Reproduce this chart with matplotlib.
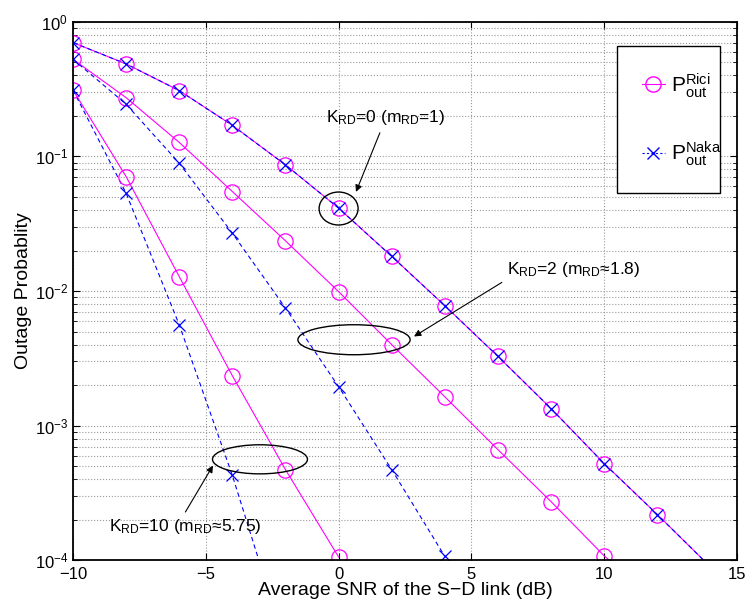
import numpy as np
import matplotlib
matplotlib.use('Agg')
import matplotlib.pyplot as plt
from matplotlib.patches import Ellipse

plt.rcParams['font.family'] = ['Liberation Sans', 'DejaVu Sans']
plt.rcParams['mathtext.fontset'] = 'custom'
plt.rcParams['mathtext.rm'] = 'Liberation Sans'
plt.rcParams['mathtext.it'] = 'Liberation Sans:italic'
plt.rcParams['mathtext.default'] = 'regular'

# SNR points (dB)
snr_k0 = [-10, -8, -6, -4, -2, 0, 2, 4, 6, 8, 10, 12, 13.75]
snr_k2 = [-10, -8, -6, -4, -2, 0, 2, 4, 6, 8, 10, 10.2]
snr_k2_naka = [-10, -8, -6, -4, -2, 0, 2, 4]
snr_k10 = [-10, -8, -6, -4, -2, 0]
snr_k10_naka = [-10, -8, -6, -4, -3.0]

# outage probabilities
rici_k0 = [0.70, 0.486, 0.308, 0.170, 0.0865, 0.0413, 0.0181, 0.00778, 0.00327, 0.00134, 0.000523, 0.000219, 0.0001]
naka_k0 = [0.70, 0.486, 0.308, 0.170, 0.0865, 0.0413, 0.0181, 0.00778, 0.00327, 0.00134, 0.000523, 0.000219, 0.0001]
rici_k2 = [0.526, 0.273, 0.127, 0.0548, 0.0236, 0.0099, 0.0040, 0.00164, 0.000664, 0.000273, 0.000108, 0.0001]
naka_k2 = [0.526, 0.244, 0.089, 0.0269, 0.00748, 0.00195, 0.000472, 0.000107]
rici_k10 = [0.311, 0.0708, 0.0128, 0.00235, 0.000472, 0.000106]
naka_k10 = [0.311, 0.0533, 0.00562, 0.000428, 0.0001]

MAG = '#ff00ff'
BLU = '#0000ff'

fig = plt.figure(figsize=(7.5, 6.08), dpi=100)
ax = fig.add_axes([0.0973, 0.0783, 0.8854, 0.8860])

def marked(x, y, n):
    return x[:n], y[:n]

# lines
ax.plot(snr_k0, rici_k0, '-', color=MAG, lw=0.8)
ax.plot(snr_k2, rici_k2, '-', color=MAG, lw=0.8)
ax.plot(snr_k10, rici_k10, '-', color=MAG, lw=0.8)
ax.plot(snr_k0, naka_k0, '--', color=BLU, lw=0.8, dashes=(4, 3))
ax.plot(snr_k2_naka, naka_k2, '--', color=BLU, lw=0.8, dashes=(4, 3))
ax.plot(snr_k10_naka, naka_k10, '--', color=BLU, lw=0.8, dashes=(4, 3))

# markers
mk = dict(ls='none', ms=11, mfc='none', mec=MAG, mew=0.9, marker='o')
xk = dict(ls='none', ms=9, color=BLU, mew=0.9, marker='x')
ax.plot(*marked(snr_k0, rici_k0, 12), **mk)
ax.plot(*marked(snr_k2, rici_k2, 11), **mk)
ax.plot(snr_k10, rici_k10, **mk)
ax.plot(*marked(snr_k0, naka_k0, 12), **xk)
ax.plot(snr_k2_naka, naka_k2, **xk)
ax.plot(*marked(snr_k10_naka, naka_k10, 4), **xk)

ax.set_yscale('log')
ax.set_xlim(-10, 15)
ax.set_ylim(1e-4, 1)
ax.set_xticks([-10, -5, 0, 5, 10, 15])
ax.set_xticklabels(['\u221210', '\u22125', '0', '5', '10', '15'])
ax.tick_params(which='both', direction='in', top=True, right=True, labelsize=12)
ax.tick_params(which='major', length=5)
ax.tick_params(which='minor', length=3)
ax.tick_params(axis='x', pad=5)
ax.grid(True, which='major', axis='x', ls=':', color='#999999', lw=0.8)
ax.grid(True, which='both', axis='y', ls=':', color='#999999', lw=0.8)
for s in ax.spines.values():
    s.set_linewidth(1.3)

ax.set_xlabel('Average SNR of the S\u2212D link (dB)', fontsize=14, labelpad=0)
ax.set_ylabel('Outage Probablity', fontsize=14, labelpad=2)

# legend
h1, = ax.plot([], [], '-', color=MAG, lw=0.8, marker='o', ms=11, mfc='none', mec=MAG)
h2, = ax.plot([], [], '--', color=BLU, lw=0.8, marker='x', ms=9, dashes=(2, 2))
leg = ax.legend([h1, h2], [r'$P_{out}^{Rici}$', r'$P_{out}^{Naka}$'],
                loc='upper left', bbox_to_anchor=(0.819, 0.688, 0.155, 0.267),
                mode='expand', fontsize=15, handlelength=1.1, handletextpad=0.3,
                labelspacing=1.9, borderpad=1.2, borderaxespad=0,
                fancybox=False, edgecolor='k', framealpha=1)
leg.get_frame().set_linewidth(1.0)

# ellipses (axes fraction positions)
def afrac(x, y):
    return ((x + 10) / 25.0, (np.log10(y) + 4) / 4.0)

for (cx, cy, w, h) in [(0.0, 0.041, 0.0587, 0.0612),
                       (0.58, 0.00435, 0.169, 0.0557),
                       (-2.96, 0.000563, 0.143, 0.054)]:
    ax.add_patch(Ellipse(afrac(cx, cy), w, h, transform=ax.transAxes,
                         fill=False, ec='k', lw=1.0, zorder=5))

arr = dict(arrowstyle='-|>', color='k', lw=0.8, mutation_scale=10, shrinkA=2, shrinkB=0)
ax.annotate(r'K$_{RD}$=0 (m$_{RD}$=1)', xy=(0.655, 0.0545), xytext=(1.78, 0.193),
            ha='center', va='center', fontsize=12.5, arrowprops=arr)
ax.annotate(r'K$_{RD}$=2 (m$_{RD}$≈1.8)', xy=(2.84, 0.0046), xytext=(6.34, 0.0144),
            ha='left', va='center', fontsize=12.5,
            arrowprops=dict(arr, relpos=(0, 0)))
ax.annotate(r'K$_{RD}$=10 (m$_{RD}$≈5.75)', xy=(-4.73, 0.000506), xytext=(-8.64, 0.000178),
            ha='left', va='center', fontsize=12.5,
            arrowprops=dict(arr, relpos=(0.48, 1)))

fig.savefig('out.png', dpi=100)
